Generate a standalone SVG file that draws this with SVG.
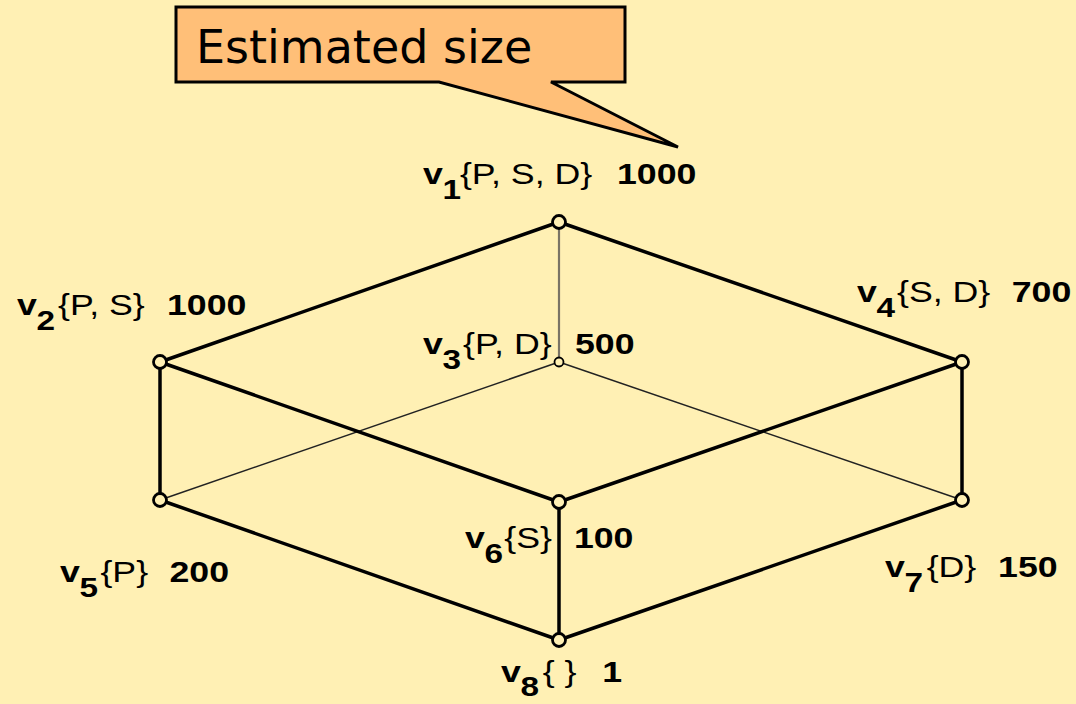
<svg xmlns="http://www.w3.org/2000/svg" width="1076" height="704" viewBox="0 0 1076 704">
<style>
.bg{fill:#FFF0B4}
.thick{stroke:#000;stroke-width:3.5;fill:none;stroke-linecap:round}
.thin{stroke:#222;stroke-width:1.5;fill:none}
.gray{stroke:#7a7466;stroke-width:2.2;fill:none}
.node{fill:#FFF0B4;stroke:#000;stroke-width:2.8}
.small{fill:#FFF0B4;stroke:#000;stroke-width:1.8}
.lbl{font-family:"Liberation Sans",Arial,sans-serif;font-size:30px;fill:#000}
.b{font-weight:bold}
.sub{font-weight:bold;font-size:28px}
.call{fill:#FFBF78;stroke:#000;stroke-width:3;stroke-linejoin:miter}
.ctext{font-family:"DejaVu Sans",sans-serif;font-size:46px;fill:#000}
</style>
<rect class="bg" x="0" y="0" width="1076" height="704"/>
<g id="callout">
<path class="call" d="M176,7 H625 V82 H551 L678,147 L439,82 H176 Z"/>
<text class="ctext" x="196" y="63">Estimated size</text>
</g>
<g id="connectors">
<line class="gray" x1="559" y1="222" x2="559" y2="362"/>
<line class="thin" x1="559" y1="362" x2="160" y2="500"/>
<line class="thin" x1="559" y1="362" x2="962" y2="500"/>
<line class="thick" x1="559" y1="222" x2="160" y2="362"/>
<line class="thick" x1="559" y1="222" x2="962" y2="362"/>
<line class="thick" x1="160" y1="362" x2="559" y2="502"/>
<line class="thick" x1="160" y1="362" x2="160" y2="500"/>
<line class="thick" x1="962" y1="362" x2="559" y2="502"/>
<line class="thick" x1="962" y1="362" x2="962" y2="500"/>
<line class="thick" x1="160" y1="500" x2="559" y2="640"/>
<line class="thick" x1="559" y1="502" x2="559" y2="640"/>
<line class="thick" x1="962" y1="500" x2="559" y2="640"/>
</g>
<g id="v1">
<circle class="node" cx="559" cy="222" r="6.5"/>
<g transform="translate(423,184) scale(1.19,1)"><text class="lbl" x="0" y="0"><tspan class="b">v</tspan><tspan class="sub" x="16.5" dy="15">1</tspan><tspan x="31" dy="-15">{P, S, D}</tspan><tspan class="b" x="163">1000</tspan></text></g>
</g>
<g id="v2">
<circle class="node" cx="160" cy="362" r="6.5"/>
<g transform="translate(17,315) scale(1.19,1)"><text class="lbl" x="0" y="0"><tspan class="b">v</tspan><tspan class="sub" x="16.5" dy="15">2</tspan><tspan x="34.5" dy="-15">{P, S}</tspan><tspan class="b" x="126">1000</tspan></text></g>
</g>
<g id="v3">
<circle class="small" cx="559" cy="362" r="4.5"/>
<g transform="translate(423,354) scale(1.19,1)"><text class="lbl" x="0" y="0"><tspan class="b">v</tspan><tspan class="sub" x="16.5" dy="15">3</tspan><tspan x="33.6" dy="-15">{P, D}</tspan><tspan class="b" x="127.7">500</tspan></text></g>
</g>
<g id="v4">
<circle class="node" cx="962" cy="362" r="6.5"/>
<g transform="translate(857,302) scale(1.19,1)"><text class="lbl" x="0" y="0"><tspan class="b">v</tspan><tspan class="sub" x="16.5" dy="15">4</tspan><tspan x="33.6" dy="-15">{S, D}</tspan><tspan class="b" x="130">700</tspan></text></g>
</g>
<g id="v5">
<circle class="node" cx="160" cy="500" r="6.5"/>
<g transform="translate(60,582) scale(1.19,1)"><text class="lbl" x="0" y="0"><tspan class="b">v</tspan><tspan class="sub" x="16.5" dy="15">5</tspan><tspan x="34" dy="-15">{P}</tspan><tspan class="b" x="92">200</tspan></text></g>
</g>
<g id="v6">
<circle class="node" cx="559" cy="502" r="6.5"/>
<g transform="translate(465,548) scale(1.19,1)"><text class="lbl" x="0" y="0"><tspan class="b">v</tspan><tspan class="sub" x="16.5" dy="15">6</tspan><tspan x="33" dy="-15">{S}</tspan><tspan class="b" x="91.5">100</tspan></text></g>
</g>
<g id="v7">
<circle class="node" cx="962" cy="500" r="6.5"/>
<g transform="translate(885,577) scale(1.19,1)"><text class="lbl" x="0" y="0"><tspan class="b">v</tspan><tspan class="sub" x="16.5" dy="15">7</tspan><tspan x="35" dy="-15">{D}</tspan><tspan class="b" x="95">150</tspan></text></g>
</g>
<g id="v8">
<circle class="node" cx="559" cy="640" r="6.5"/>
<g transform="translate(501,682) scale(1.19,1)"><text class="lbl" x="0" y="0"><tspan class="b">v</tspan><tspan class="sub" x="16.5" dy="14">8</tspan><tspan x="35" dy="-14">{ }</tspan><tspan class="b" x="85">1</tspan></text></g>
</g>
</svg>
